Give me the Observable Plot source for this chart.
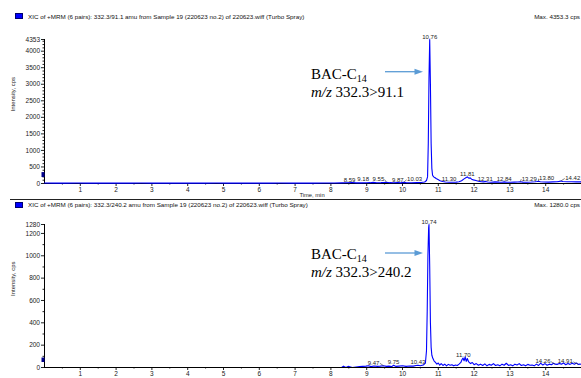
<!DOCTYPE html>
<html><head><meta charset="utf-8">
<script src="https://cdn.jsdelivr.net/npm/d3@7"></script>
<script src="https://cdn.jsdelivr.net/npm/@observablehq/plot@0.6"></script>
<style>
body{margin:0;background:#fff;}
#wrap{position:relative;width:581px;height:378px;overflow:hidden;background:#fff;font-family:"Liberation Sans",Arial,sans-serif;}
.t{position:absolute;font-size:6.25px;line-height:7px;color:#111;white-space:nowrap;}
.sq{position:absolute;width:6px;height:4px;background:#0000ff;border:0.6px solid #000070;}
.ann{position:absolute;font-family:"Liberation Serif","Times New Roman",serif;font-size:15px;line-height:15px;white-space:nowrap;color:#000;}
.ann sub{font-size:10px;line-height:0;vertical-align:-3px;}
.sep{position:absolute;left:10px;top:198.5px;width:571px;height:1.6px;background:#222;}
</style></head>
<body><div id="wrap"></div>
<script>
// ---------- data ----------
const title1 = "XIC of +MRM (6 pairs): 332.3/91.1 amu from Sample 19 (220623 no.2) of 220623.wiff (Turbo Spray)";
const title2 = "XIC of +MRM (6 pairs): 332.3/240.2 amu from Sample 19 (220623 no.2) of 220623.wiff (Turbo Spray)";
const max1 = "Max. 4353.3 cps";
const max2 = "Max. 1280.0 cps";
const compound = "BAC-C";
const compoundSub = "14";
const transition1 = "332.3>91.1";
const transition2 = "332.3>240.2";
const xLabel = "Time, min";
const yLabel = "Intensity, cps";

const xTicks = [1,2,3,4,5,6,7,8,9,10,11,12,13,14];
const xMinor = [0.5,1.5,2.5,3.5,4.5,5.5,6.5,7.5,8.5,9.5,10.5,11.5,12.5,13.5,14.5];
const y1Ticks = [0,500,1000,1500,2000,2500,3000,3500,4000,4353];
const y2Ticks = [0,200,400,600,800,1000,1200,1280];

const time1 = [0.00,0.30,0.60,0.90,1.20,1.50,1.80,2.10,2.40,2.70,3.00,3.30,3.60,3.90,4.20,4.50,4.80,5.10,5.40,5.70,6.00,6.30,6.60,6.90,7.20,7.50,7.80,8.10,8.30,8.45,8.59,8.70,8.85,9.00,9.10,9.18,9.28,9.40,9.48,9.55,9.64,9.75,9.87,9.95,10.03,10.12,10.25,10.40,10.52,10.62,10.67,10.70,10.72,10.74,10.76,10.78,10.80,10.82,10.84,10.87,10.90,10.94,10.99,11.05,11.12,11.20,11.30,11.40,11.50,11.58,11.65,11.72,11.78,11.81,11.85,11.89,11.93,11.98,12.05,12.12,12.20,12.26,12.31,12.38,12.47,12.58,12.70,12.78,12.84,12.92,13.02,13.12,13.22,13.29,13.36,13.48,13.60,13.70,13.76,13.80,13.85,13.95,14.08,14.20,14.32,14.38,14.42,14.48,14.60,14.72,14.85,15.00];
const int1 = [15,12,10,13,11,12,10,12,11,13,10,12,11,10,12,11,13,10,12,11,12,10,13,11,12,12,14,15,18,22,28,20,18,22,25,35,24,26,30,40,25,22,30,20,35,24,22,26,28,45,90,200,1200,3200,4353,3000,1200,450,250,200,180,150,120,85,60,45,40,38,42,55,85,140,180,200,160,170,130,110,90,70,55,50,58,45,40,48,42,40,50,40,38,42,45,55,42,40,45,52,60,70,55,45,42,48,55,65,75,60,55,52,50,48];
const peaks1 = [8.59,9.18,9.55,9.87,10.03,10.76,11.30,11.81,12.31,12.84,13.29,13.80,14.42];
const start1 = [180,330];

const time2 = [0.00,2.00,4.00,6.00,8.00,8.30,8.35,8.42,8.48,8.60,8.80,8.98,9.05,9.12,9.20,9.30,9.38,9.47,9.55,9.62,9.70,9.75,9.82,9.90,10.00,10.10,10.20,10.30,10.38,10.43,10.50,10.58,10.64,10.67,10.69,10.71,10.73,10.74,10.76,10.78,10.80,10.82,10.85,10.88,10.92,10.96,11.00,11.04,11.08,11.13,11.18,11.23,11.28,11.33,11.38,11.43,11.48,11.53,11.58,11.63,11.66,11.69,11.72,11.75,11.78,11.81,11.85,11.90,11.95,12.00,12.06,12.12,12.18,12.24,12.30,12.36,12.42,12.48,12.54,12.60,12.66,12.72,12.78,12.84,12.90,12.96,13.02,13.08,13.14,13.20,13.26,13.32,13.38,13.44,13.50,13.56,13.62,13.68,13.74,13.80,13.86,13.92,13.98,14.04,14.10,14.16,14.22,14.26,14.32,14.38,14.44,14.50,14.56,14.62,14.68,14.74,14.80,14.86,14.91,14.96,15.00];
const int2 = [0,0,0,0,0,0,12,0,10,0,8,12,15,8,14,10,12,16,10,12,8,20,10,12,15,10,14,12,18,20,15,22,40,150,500,1000,1250,1280,900,400,180,110,80,60,45,30,40,20,35,18,30,15,28,20,25,15,22,18,30,45,70,85,60,95,55,80,50,35,45,25,35,20,30,18,32,15,28,20,35,18,25,15,30,20,38,18,25,15,30,22,35,18,25,15,28,20,22,15,30,18,40,22,35,20,30,25,38,30,28,35,30,40,25,35,28,38,30,40,28,30,28];
const peaks2 = [9.47,9.75,10.43,10.74,11.70,14.26,14.91];
const start2 = [45,85];

// ---------- layout helpers ----------
const W = 581, ML = 44, FS = 6.5, PFS = 6;
const wrap = document.getElementById("wrap");

function addDiv(cls, style, html) {
  const d = document.createElement("div");
  d.className = cls; d.setAttribute("style", style); d.innerHTML = html;
  wrap.appendChild(d);
}

function makePanel(cfg) {
  const trace = cfg.time.map((t, i) => ({t, v: cfg.intensity[i]}));
  const ppm = (W - ML) / 15;
  const ppu = (cfg.height - cfg.mt - cfg.mb) / cfg.yMax;
  const nearest = rt => trace.reduce((a, b) => Math.abs(b.t - rt) < Math.abs(a.t - rt) ? b : a).v;
  const peaks = cfg.peaks.map(rt => {
    const label = rt.toFixed(2);
    const sh = cfg.shifts[label] || 0;
    const w = ((label.length - 1) * 0.556 + 0.278) * PFS;
    return {rt, h: nearest(rt), label, lx: rt + sh / ppm,
      edge: rt + (sh - Math.sign(sh) * (w / 2 + 0.5)) / ppm,
      leader: cfg.leaders.includes(label)};
  });
  const minorY = d3.range(cfg.minorStep, cfg.yMax, cfg.minorStep).filter(v => !cfg.yTicks.includes(v));
  const xAxisRule = Plot.ruleY([0], {stroke: "#000", strokeWidth: 1});
  const marks = [
    Plot.ruleX([0], {stroke: "#000", strokeWidth: 1}),
    Plot.axisY(cfg.yTicks, {tickSize: 3, tickPadding: 1.5, fontSize: FS, label: null, tickFormat: d => String(d)}),
    Plot.axisY(minorY, {tickSize: 1.5, label: null, tickFormat: () => ""}),
    Plot.axisX(xTicks, {tickSize: 3, tickPadding: 1, fontSize: FS, label: null, tickFormat: d => String(d)}),
    Plot.axisX(xMinor, {tickSize: 1.5, label: null, tickFormat: () => ""}),
  ];
  if (!cfg.axisOnTop) marks.push(xAxisRule);
  marks.push(Plot.line(trace, {x: "t", y: "v", stroke: "#0000ff", strokeWidth: 1.1}));
  if (cfg.axisOnTop) marks.push(xAxisRule);
  marks.push(
    Plot.ruleX([cfg.start], {x: 0, y1: d => d[0], y2: d => d[1], dx: -1.5, stroke: "#00008b", strokeWidth: 3}),
    Plot.link(peaks.filter(d => d.leader), {x1: "edge", y1: d => d.h + 2.5 / ppu, x2: "rt", y2: "h", stroke: "#333", strokeWidth: 0.6}),
    Plot.text(peaks, {x: "lx", y: "h", text: "label", lineAnchor: "bottom", dy: -1, fontSize: PFS, fill: "#222"}),
    Plot.text([yLabel], {frameAnchor: "left", rotate: -90, dx: -31.5, fontSize: 6, fill: "#222"})
  );
  if (cfg.showXLabel) marks.push(Plot.text([xLabel], {frameAnchor: "bottom", dx: -1, dy: 13.5, fontSize: 5.8, fill: "#222"}));
  const svg = Plot.plot({
    width: W, height: cfg.height,
    marginTop: cfg.mt, marginBottom: cfg.mb, marginLeft: ML, marginRight: 0,
    x: {domain: [0, 15]}, y: {domain: [0, cfg.yMax]},
    style: {position: "absolute", left: "0px", top: cfg.top + "px", fontFamily: "'Liberation Sans', Arial, sans-serif",
      color: "#222", background: "transparent", overflow: "visible"},
    marks
  });
  wrap.appendChild(svg);
}

makePanel({time: time1, intensity: int1, peaks: peaks1, start: start1, yMax: 4353, yTicks: y1Ticks, minorStep: 100,
  top: 0, height: 199, mt: 39, mb: 16, axisOnTop: false, showXLabel: true,
  shifts: {"8.59": -2.5, "9.18": -10, "9.55": -8, "10.03": 11, "13.29": 9, "13.80": 8, "14.42": 12},
  leaders: ["9.55", "10.03", "13.29", "13.80", "14.42"]});
makePanel({time: time2, intensity: int2, peaks: peaks2, start: start2, yMax: 1280, yTicks: y2Ticks, minorStep: 100,
  top: 199, height: 179, mt: 25, mb: 11, axisOnTop: true, showXLabel: false,
  shifts: {"9.47": -10, "14.26": -12, "14.91": -13},
  leaders: ["9.47", "14.26", "14.91"]});

// titles and separators
addDiv("sq", "left:15px;top:13px", "");
addDiv("t", "left:28px;top:12.5px", title1);
addDiv("t", "right:1px;top:12.5px", max1);
addDiv("sep", "", "");
addDiv("sq", "left:15px;top:202px", "");
addDiv("t", "left:28px;top:201px", title2);
addDiv("t", "right:1px;top:201px", max2);

// annotations
addDiv("ann", "left:311px;top:66.5px", compound + "<sub>" + compoundSub + "</sub>");
addDiv("ann", "left:311px;top:85px", "<i>m/z</i> " + transition1.replace(">", "&gt;"));
addDiv("ann", "left:311px;top:246.5px", compound + "<sub>" + compoundSub + "</sub>");
addDiv("ann", "left:311px;top:264.5px", "<i>m/z</i> " + transition2.replace(">", "&gt;"));

const ns = "http://www.w3.org/2000/svg";
const ov = document.createElementNS(ns, "svg");
ov.setAttribute("width", W); ov.setAttribute("height", 378);
ov.setAttribute("style", "position:absolute;left:0;top:0;pointer-events:none");
for (const yy of [71.7, 253]) {
  const l = document.createElementNS(ns, "line");
  l.setAttribute("x1", 385); l.setAttribute("x2", 416); l.setAttribute("y1", yy); l.setAttribute("y2", yy);
  l.setAttribute("stroke", "#5b9bd5"); l.setAttribute("stroke-width", 1.3);
  ov.appendChild(l);
  const p = document.createElementNS(ns, "polygon");
  p.setAttribute("points", `423,${yy} 414.5,${yy - 3} 414.5,${yy + 3}`);
  p.setAttribute("fill", "#5b9bd5");
  ov.appendChild(p);
}
wrap.appendChild(ov);
</script>
</body></html>
